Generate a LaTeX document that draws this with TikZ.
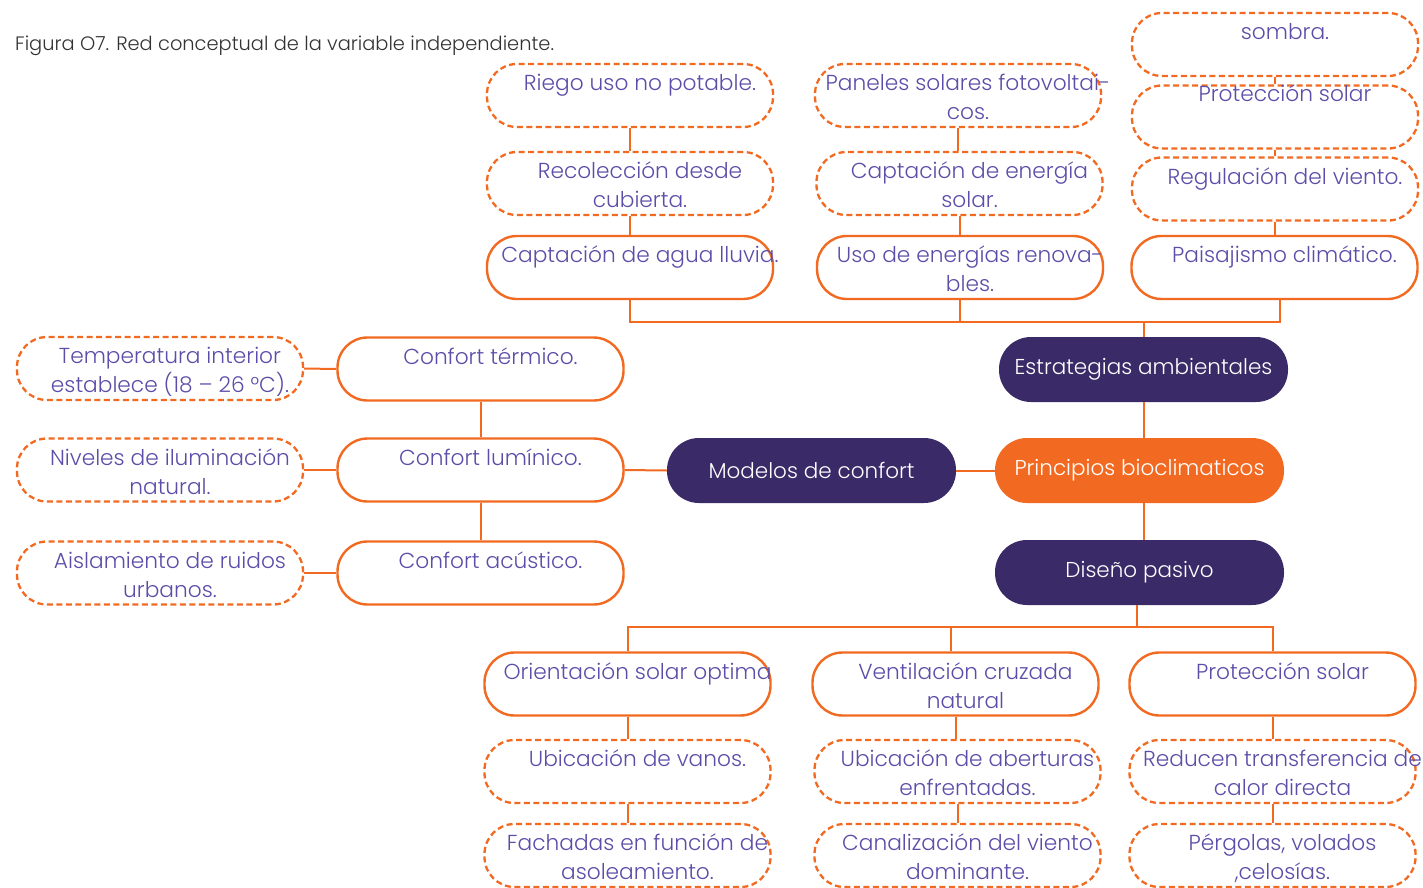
\documentclass[tikz,border=0pt]{standalone}
\usepackage{fontspec}
\IfFontExistsTF{Poppins Light}{\setmainfont{Poppins Light}}{\setmainfont{Poppins}}
\newfontfamily\darkfont{Poppins}
\usetikzlibrary{calc}
\definecolor{orng}{HTML}{F26A21}
\definecolor{purp}{HTML}{3A2A68}
\definecolor{txtp}{HTML}{5B4DA8}
\definecolor{capc}{HTML}{333333}
\newcommand\mybox[6][28]{%
  \node[#5] (#2) at (#3,#4) {};
  \node[lbl] (#2t) at ($(#2.north)+(10,#1)$) {\parbox[t]{400pt}{\centering #6}};}
\begin{document}
\begin{tikzpicture}[x=1pt,y=-1pt,
 box/.style={minimum width=286pt,minimum height=63pt,inner sep=0pt,rounded corners=30pt},
 solidbox/.style={box,draw=orng,line width=2.4pt},
 dashbox/.style={box,draw=orng,line width=2.3pt,dash pattern=on 6pt off 3.5pt},
 darkbox/.style={minimum width=289pt,minimum height=65pt,inner sep=0pt,rounded corners=32pt,fill=purp,text=white,font=\fontsize{21.5}{25}\selectfont},
 orgbox/.style={darkbox,fill=orng},
 lbl/.style={inner sep=0pt,anchor=base,text=txtp,font=\fontsize{21.7}{29}\selectfont},
 link/.style={draw=orng,line width=2pt}
]
\useasboundingbox (0,0) rectangle (1423,888);
\node[anchor=base west,text=capc,font=\fontsize{19.4}{22}\selectfont,inner sep=0pt] (cap) at (15,51) {Figura O7. Red conceptual de la variable independiente.};

% top
\mybox{riego}{630}{95.5}{dashbox}{Riego uso no potable.}
\mybox{paneles}{958}{95.5}{dashbox}{Paneles solares fotovoltai-\\cos.}
\mybox{sombra}{1275}{44.5}{dashbox}{sombra.}
\mybox{recol}{630}{183.5}{dashbox}{Recolección desde\\cubierta.}
\mybox{capene}{959.5}{183.5}{dashbox}{Captación de energía\\solar.}
\mybox[17]{prota}{1275}{117}{dashbox}{Protección solar}
\mybox{regul}{1275}{189}{dashbox}{Regulación del viento.}
\mybox{capagua}{630}{267.5}{solidbox}{Captación de agua lluvia.}
\mybox{uso}{960}{267.5}{solidbox}{Uso de energías renova-\\bles.}
\mybox{paisaj}{1274.5}{267.5}{solidbox}{Paisajismo climático.}

% left
\mybox{temp}{160}{368.5}{dashbox}{Temperatura interior\\establece (18 – 26 °C).}
\mybox{nivel}{160}{470}{dashbox}{Niveles de iluminación\\natural.}
\mybox{aisl}{160}{573}{dashbox}{Aislamiento de ruidos\\urbanos.}
\mybox{ctherm}{480.5}{369}{solidbox}{Confort térmico.}
\mybox{clum}{480.5}{470}{solidbox}{Confort lumínico.}
\mybox{cacu}{480.5}{573}{solidbox}{Confort acústico.}

% central
\node[darkbox] (estr) at (1143.5,369.5) {Estrategias ambientales};
\node[orgbox] (princ) at (1139.5,470.5) {Principios bioclimaticos};
\node[darkbox] (dise) at (1139.5,572.5) {Diseño pasivo};
\node[darkbox] (model) at (811.5,470.5) {Modelos de confort};

% bottom
\mybox{orient}{627.5}{684}{solidbox}{Orientación solar optima}
\mybox{vent}{955.5}{684}{solidbox}{Ventilación cruzada\\natural}
\mybox{protb}{1272.5}{684}{solidbox}{Protección solar}
\mybox{ubvan}{627.5}{771.5}{dashbox}{Ubicación de vanos.}
\mybox{ubab}{957.5}{771.5}{dashbox}{Ubicación de aberturas\\enfrentadas.}
\mybox{reduc}{1272.5}{771.5}{dashbox}{Reducen transferencia de\\calor directa}
\mybox{fach}{627.5}{855.5}{dashbox}{Fachadas en función de\\asoleamiento.}
\mybox{canal}{957.5}{855.5}{dashbox}{Canalización del viento\\dominante.}
\mybox{perg}{1272.5}{855.5}{dashbox}{Pérgolas, volados\\,celosías.}

% connectors top
\coordinate (busT) at (1143,322);
\draw[link] (riego.south) -- (recol.north);
\draw[link] (recol.south) -- (capagua.north);
\draw[link] (paneles.south) -- (paneles.south |- capene.north);
\draw[link] (capene.south) -- (capene.south |- uso.north);
\draw[link] (sombra.south) -- (prota.north);
\draw[link] (prota.south) -- (regul.north);
\draw[link] (regul.south) -- (regul.south |- paisaj.north);
\draw[link] (capagua.south) |- ([xshift=5pt]paisaj.south |- busT) -- ([xshift=5pt]paisaj.south);
\draw[link] (uso.south) -- (uso.south |- busT);
\draw[link] (estr.north) -- (estr.north |- busT);

% central
\draw[link] (estr.south) -- (estr.south |- princ.north);
\draw[link] (estr.south |- princ.south) -- (estr.south |- dise.north);
\draw[link] (model.east) -- (princ.west);
\draw[link] (clum.east) -- (model.west);
\draw[link] (ctherm.south) -- (clum.north);
\draw[link] (clum.south) -- (cacu.north);
\draw[link] (temp.east) -- (ctherm.west);
\draw[link] (nivel.east) -- (clum.west);
\draw[link] (aisl.east) -- (cacu.west);

% bottom
\coordinate (busB) at (1137,627);
\draw[link] ([xshift=-2.5pt]dise.south) -- (busB);
\draw[link] (orient.north) |- (protb.north |- busB) -- (protb.north);
\draw[link] ([xshift=-5pt]vent.north) -- ([xshift=-5pt]vent.north |- busB);
\draw[link] (orient.south) -- (ubvan.north);
\draw[link] (ubvan.south) -- (fach.north);
\draw[link] (vent.south) -- (vent.south |- ubab.north);
\draw[link] (ubab.south) -- (canal.north);
\draw[link] (protb.south) -- (reduc.north);
\draw[link] (reduc.south) -- (perg.north);
\end{tikzpicture}
\end{document}
